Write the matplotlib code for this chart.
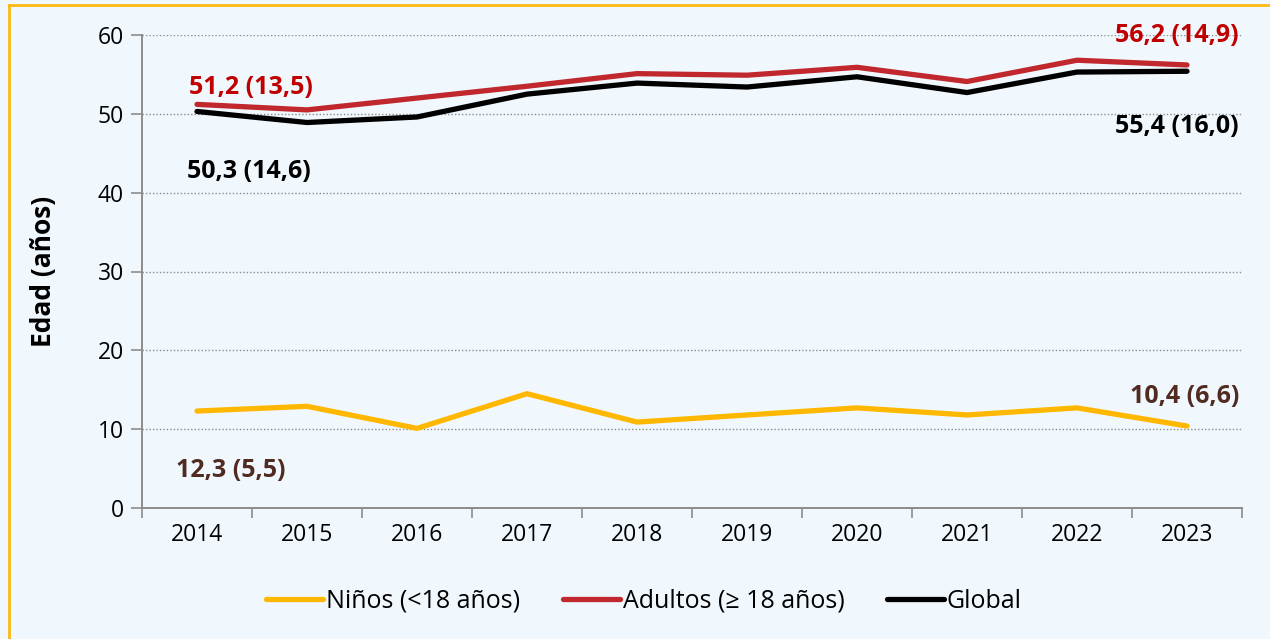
import matplotlib.pyplot as plt
from matplotlib.lines import Line2D
import numpy as np

plt.rcParams['font.family'] = ['Open Sans', 'DejaVu Sans']

# data
years = ['2014', '2015', '2016', '2017', '2018', '2019', '2020', '2021', '2022', '2023']
ninos = [12.3, 12.9, 10.1, 14.5, 10.9, 11.8, 12.7, 11.8, 12.7, 10.4]
adultos = [51.2, 50.5, 52.0, 53.5, 55.1, 54.9, 55.9, 54.1, 56.8, 56.2]
glob = [50.3, 48.9, 49.6, 52.5, 53.9, 53.4, 54.7, 52.7, 55.3, 55.4]
labels = ['Niños (<18 años)', 'Adultos (≥ 18 años)', 'Global']
yticks = [0, 10, 20, 30, 40, 50, 60]

BG = '#F0F8FE'
YEL = '#FFB700'
RED = '#C0282D'
BROWN = '#512A20'

fig = plt.figure(figsize=(12.7, 6.39), dpi=100, facecolor=BG)
ax = fig.add_axes([142 / 1270, 1 - 508 / 639, 1100 / 1270, 473 / 639])
ax.set_facecolor(BG)

x = np.arange(len(years))
ax.plot(x, ninos, color=YEL, lw=3.8, solid_capstyle='round', label=labels[0])
ax.plot(x, adultos, color=RED, lw=3.8, solid_capstyle='round', label=labels[1])
ax.plot(x, glob, color='black', lw=3.8, solid_capstyle='round', label=labels[2])

ax.set_xlim(-0.5, len(years) - 0.5)
ax.set_ylim(0, 60)
ax.set_yticks(yticks)
ax.set_yticklabels([str(v) for v in yticks], fontsize=16.5)
ax.set_xticks(np.arange(-0.5, len(years), 1.0))
ax.set_xticklabels([])
ax.set_xticks(x, minor=True)
ax.set_xticklabels(years, minor=True, fontsize=16.5)
ax.tick_params(axis='x', which='minor', length=0, pad=11)
ax.tick_params(axis='x', which='major', length=7, color='#8C8C8C', width=1.2)
ax.tick_params(axis='y', length=8, color='#8C8C8C', width=1.2, pad=5)

for s in ['top', 'right']:
    ax.spines[s].set_visible(False)
for s in ['left', 'bottom']:
    ax.spines[s].set_color('#8C8C8C')
    ax.spines[s].set_linewidth(1.4)
ax.yaxis.grid(True, linestyle=(0, (1, 1.5)), color='#8C8C8C', lw=1.0)
ax.set_axisbelow(True)

ax.set_ylabel('Edad (años)', fontsize=19, fontweight='bold')
ax.yaxis.set_label_coords(-0.077, 0.5)

# annotations
bold = dict(fontsize=18, fontweight='bold', va='center', textcoords='offset points')
ax.annotate('51,2 (13,5)', (x[0], adultos[0]), xytext=(-6, 12.5), color='#C00000', ha='left', **bold)
ax.annotate('50,3 (14,6)', (x[0], glob[0]), xytext=(-7, -43.5), color='black', ha='left', **bold)
ax.annotate('56,2 (14,9)', (x[-1], adultos[-1]), xytext=(37, 21.5), color='#C00000', ha='right', **bold)
ax.annotate('55,4 (16,0)', (x[-1], glob[-1]), xytext=(37, -40), color='black', ha='right', **bold)
ax.annotate('10,4 (6,6)', (x[-1], ninos[-1]), xytext=(38, 21.5), color=BROWN, ha='right', **bold)
ax.annotate('12,3 (5,5)', (x[0], ninos[0]), xytext=(-15, -42.5), color=BROWN, ha='left', **bold)

handles = [Line2D([], [], color=YEL, lw=3.8, solid_capstyle='round'),
           Line2D([], [], color=RED, lw=3.8, solid_capstyle='round'),
           Line2D([], [], color='black', lw=3.8, solid_capstyle='round')]
fig.legend(handles, labels, loc='center', bbox_to_anchor=(0.507, 1 - 601 / 639), ncol=3,
           frameon=False, fontsize=18, handlelength=2.3, handletextpad=0.1,
           columnspacing=1.7)

# border on left and top
fig.add_artist(Line2D([8.5 / 1270, 8.5 / 1270], [0, 1 - 4.5 / 639], color='#FDB913', lw=2,
                      transform=fig.transFigure))
fig.add_artist(Line2D([8.5 / 1270, 1], [1 - 4.5 / 639, 1 - 4.5 / 639], color='#FDB913', lw=2,
                      transform=fig.transFigure))

fig.savefig('out.png', dpi=100, facecolor=BG)
